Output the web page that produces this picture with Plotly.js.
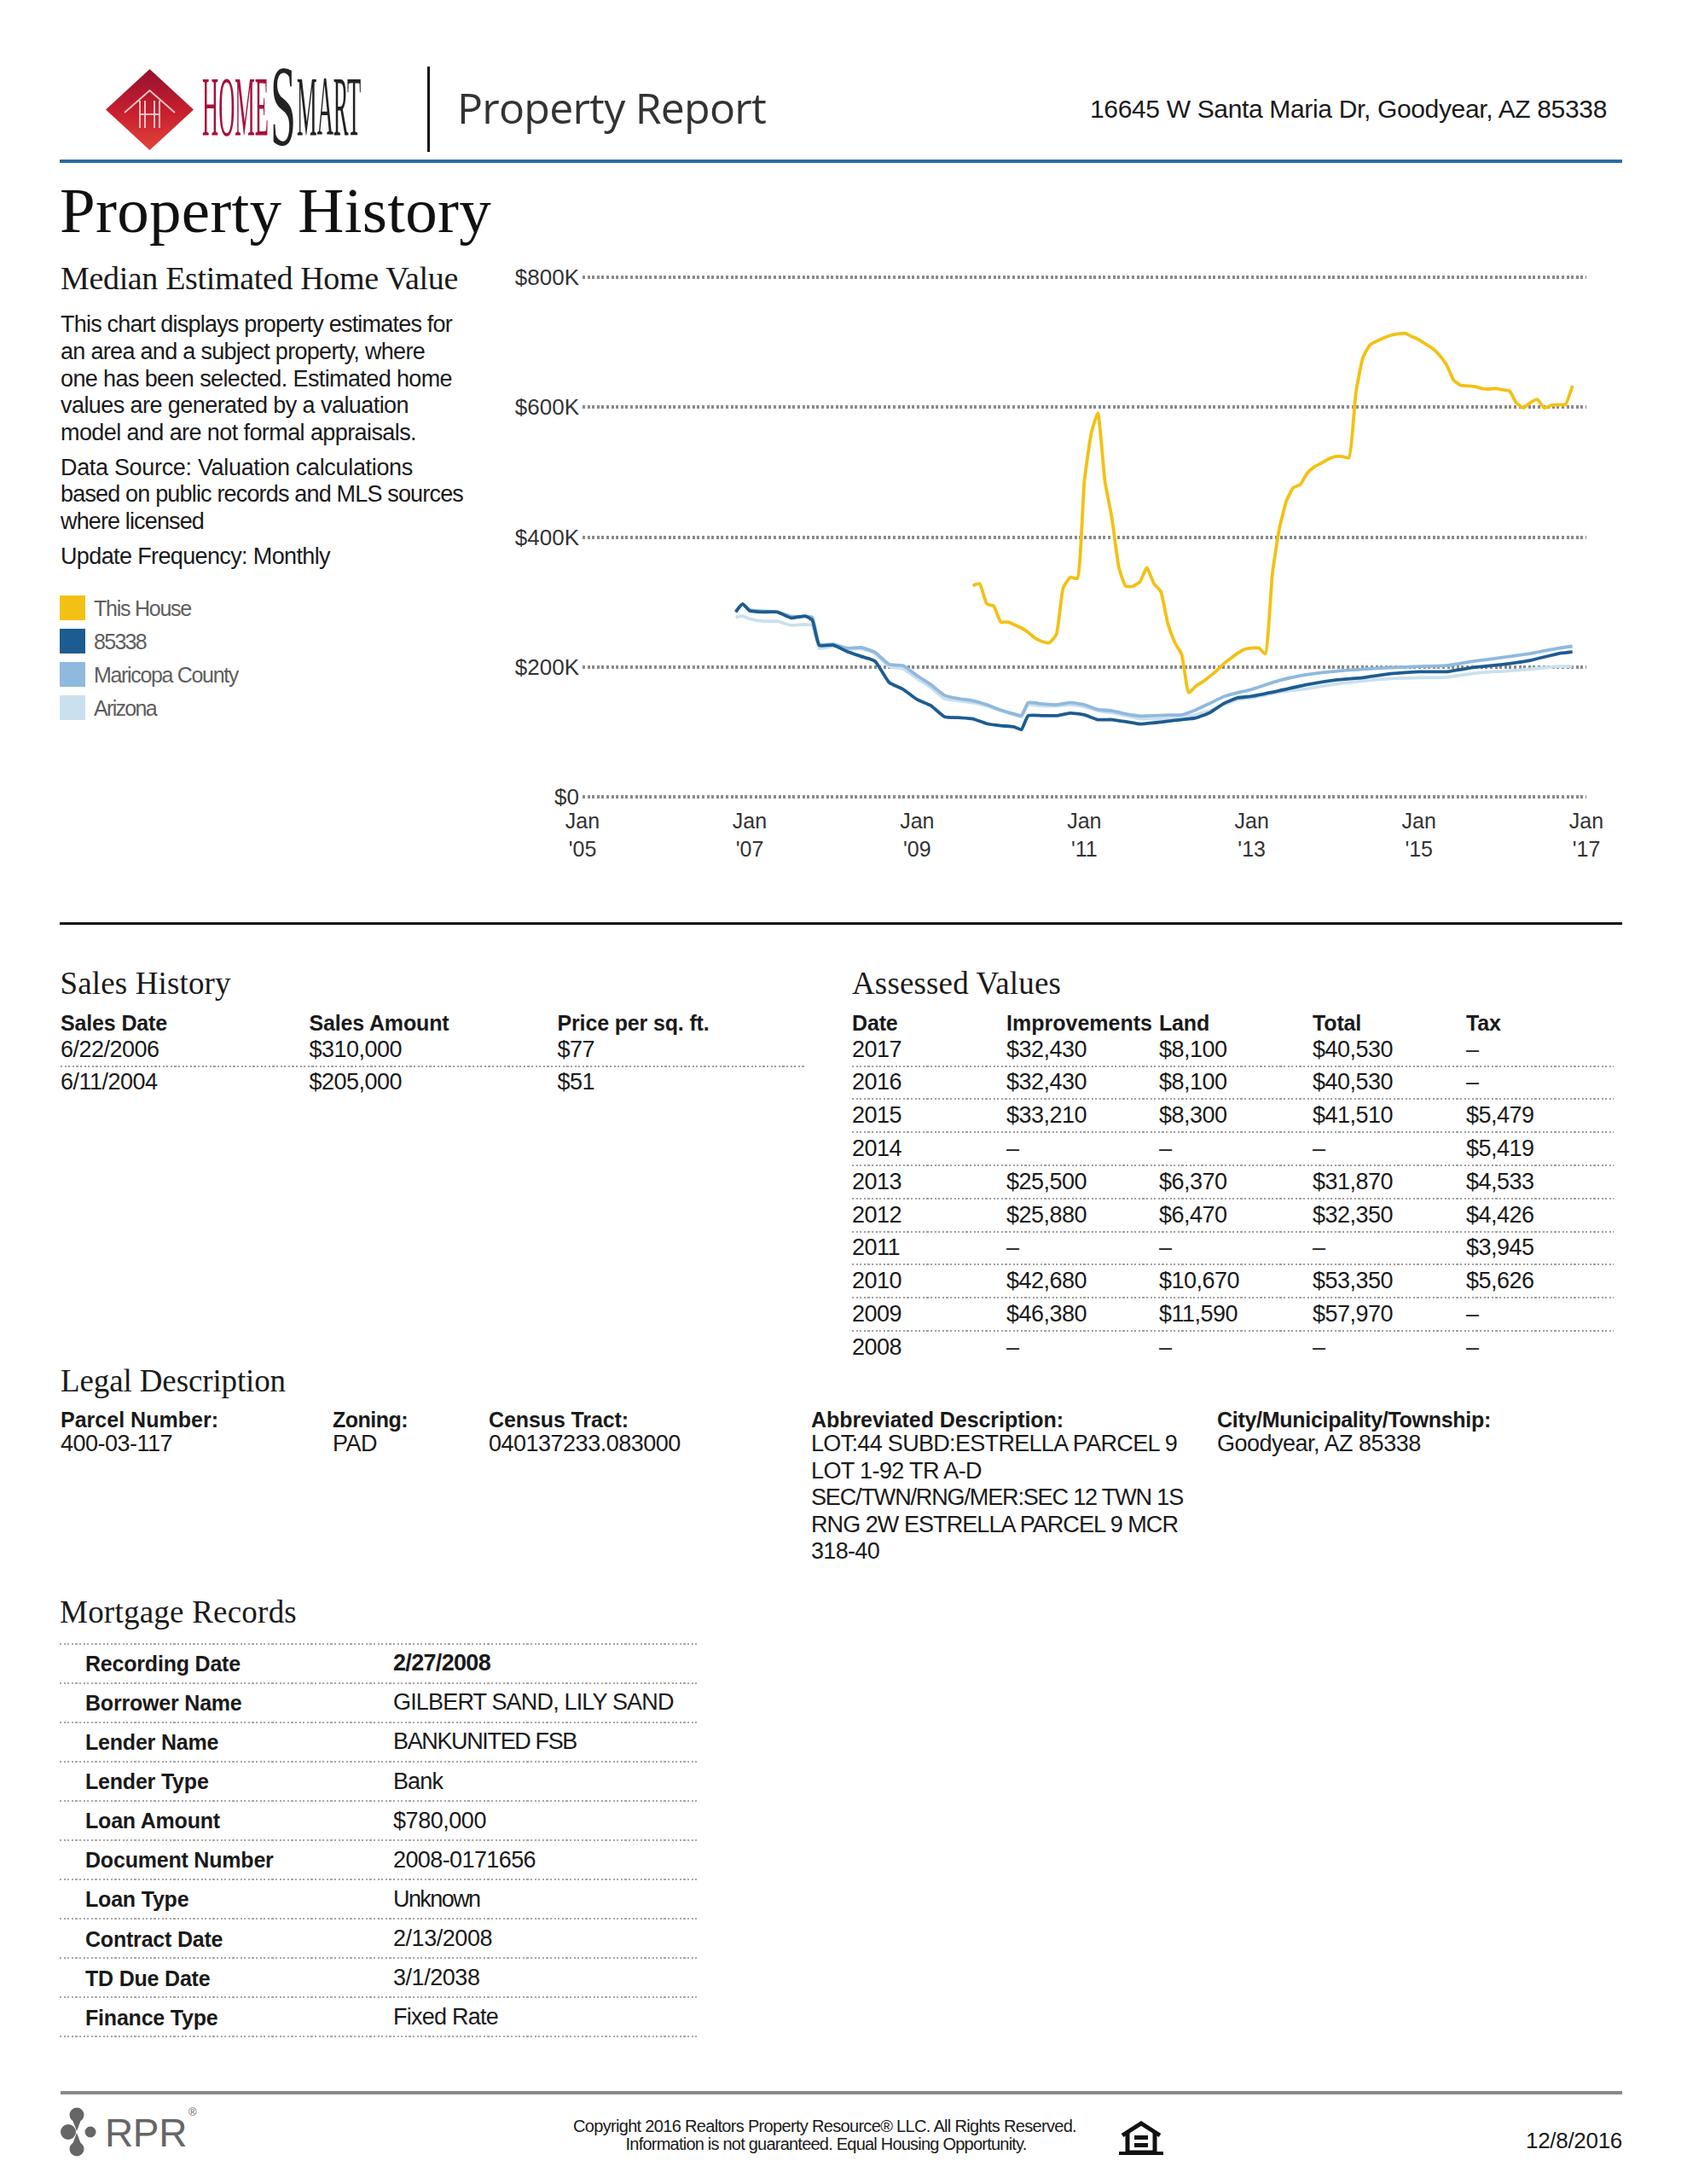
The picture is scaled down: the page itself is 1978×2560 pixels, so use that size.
<!DOCTYPE html>
<html>
<head>
<meta charset="utf-8">
<title>Property Report</title>
<script src="https://cdn.plot.ly/plotly-3.0.1.min.js"></script>
<style>
html,body{margin:0;padding:0;background:#fff;}
#page{position:relative;width:1978px;height:2560px;overflow:hidden;background:#fff;}
#chart{position:absolute;left:560px;top:290px;width:1400px;height:730px;}
.t{position:absolute;white-space:pre;line-height:1;}
.r{position:absolute;}
svg.a{position:absolute;left:0;top:0;}
</style>
</head>
<body>
<div id="page"><div id="chart"></div></div>
<script>
// ---------- chart data (values in $ thousands) ----------
const seriesNames = ["This House","85338","Maricopa County","Arizona"];
const seriesColors = ["#f3c114","#1d5c91","#8fb9dd","#cbe0ee"];
const houseDates = ["2009-09","2009-10","2009-11","2009-12",
"2010-01","2010-02","2010-03","2010-04","2010-05","2010-06","2010-07","2010-08","2010-09","2010-10","2010-11","2010-12",
"2011-01","2011-02","2011-03","2011-04","2011-05","2011-06","2011-07","2011-08","2011-09","2011-10","2011-11","2011-12",
"2012-01","2012-02","2012-03","2012-04","2012-05","2012-06","2012-07","2012-08","2012-09","2012-10","2012-11","2012-12",
"2013-01","2013-02","2013-03","2013-04","2013-05","2013-06","2013-07","2013-08","2013-09","2013-10","2013-11","2013-12",
"2014-01","2014-02","2014-03","2014-04","2014-05","2014-06","2014-07","2014-08","2014-09","2014-10","2014-11","2014-12",
"2015-01","2015-02","2015-03","2015-04","2015-05","2015-06","2015-07","2015-08","2015-09","2015-10","2015-11","2015-12",
"2016-01","2016-02","2016-03","2016-04","2016-05","2016-06","2016-07","2016-08","2016-09","2016-10","2016-11"];
const houseValues = [325,328,297,294,
269,269,265,260,253,244,239,237,250,322,338,336,
486,561,591,486,430,353,324,324,331,353,328,316,
266,237,219,160,170,177,185,194,205,213,221,227,
229,229,220,343,412,455,476,481,499,508,514,520,
524,524,522,623,676,696,702,707,711,713,714,709,
704,697,691,680,666,642,634,633,632,629,628,629,
627,625,607,599,607,612,599,603,604,604,633];
const areaDates = ["2006-11","2006-12","2007-01","2007-03","2007-05","2007-07","2007-09","2007-10","2007-11",
"2008-01","2008-03","2008-05","2008-07","2008-09","2008-11",
"2009-01","2009-03","2009-05","2009-07","2009-09","2009-11",
"2010-01","2010-03","2010-04","2010-05","2010-07","2010-09","2010-11",
"2011-01","2011-03","2011-05","2011-07","2011-09","2011-11",
"2012-01","2012-03","2012-05","2012-07","2012-09","2012-11",
"2013-01","2013-05","2013-09","2014-01","2014-05","2014-09",
"2015-01","2015-05","2015-09","2016-01","2016-05","2016-09","2016-11"];
const zipValues = [284.5,296.9,286.3,284.5,284.5,275.2,278.3,272,232.9,
233.5,223.6,216.1,208.7,175.8,165.2,
149.7,140.4,123,121.7,119.9,112.4,
109.3,107.4,103.1,124.8,124.8,124.8,128.6,
126.1,118.6,118.6,115.5,111.8,113.7,
116.1,118.6,121.1,129.2,143.5,152.2,
154.7,163.3,172.7,179.5,183.2,189.4,
192.5,192.5,199.4,203.7,209.9,220.5,223];
const countyValues = [285.7,296.3,287.6,285.7,284.5,277.6,277.6,276.4,234.8,
234.8,228.6,229.8,222.4,203.7,201.9,
186.3,172.7,155.9,150.9,147.8,141.6,
133.5,127.3,124.8,144.7,142.9,141.6,144.7,
141.6,134.2,132.3,127.3,124.2,124.8,
125.5,126.1,133.5,143.5,154,160.2,
165.2,178.9,188.2,193.2,196.3,198.8,
200.6,201.9,208.7,214.3,220.5,228.6,231.7];
const stateValues = [276.4,278.3,273.9,270.2,270.2,264,265.2,264,228.6,
231.7,227.3,228,220.5,200.6,196.9,
182,168.3,150.9,147.8,144.7,139.7,
132.3,126.1,123,141.6,139.7,139.7,141.6,
138.5,132.3,129.2,124.8,119.9,119.9,
119.9,121.1,126.1,132.3,141.6,149.7,
152.2,160.9,166.5,173.3,178.3,182,
183.2,183.8,190.1,193.2,196.3,200.6,200.6];
const yTickVals = [0,200,400,600,800];
const yTickText = ["$0","$200K","$400K","$600K","$800K"];
const xTickVals = ["2005-01-01","2007-01-01","2009-01-01","2011-01-01","2013-01-01","2015-01-01","2017-01-01"];
const xTickText = ["Jan<br>'05","Jan<br>'07","Jan<br>'09","Jan<br>'11","Jan<br>'13","Jan<br>'15","Jan<br>'17"];

// ---------- page text ----------
const addressText = "16645 W Santa Maria Dr, Goodyear, AZ 85338";
const introLines = ["This chart displays property estimates for","an area and a subject property, where","one has been selected. Estimated home","values are generated by a valuation","model and are not formal appraisals."];
const sourceLines = ["Data Source: Valuation calculations","based on public records and MLS sources","where licensed"];
const updateLine = "Update Frequency: Monthly";
const salesHeaders = ["Sales Date","Sales Amount","Price per sq. ft."];
const salesRows = [["6/22/2006","$310,000","$77"],["6/11/2004","$205,000","$51"]];
const assessedHeaders = ["Date","Improvements","Land","Total","Tax"];
const assessedRows = [
["2017","$32,430","$8,100","$40,530","–"],
["2016","$32,430","$8,100","$40,530","–"],
["2015","$33,210","$8,300","$41,510","$5,479"],
["2014","–","–","–","$5,419"],
["2013","$25,500","$6,370","$31,870","$4,533"],
["2012","$25,880","$6,470","$32,350","$4,426"],
["2011","–","–","–","$3,945"],
["2010","$42,680","$10,670","$53,350","$5,626"],
["2009","$46,380","$11,590","$57,970","–"],
["2008","–","–","–","–"]];
const legalHeaders = ["Parcel Number:","Zoning:","Census Tract:","Abbreviated Description:","City/Municipality/Township:"];
const legalValues = ["400-03-117","PAD","040137233.083000","","Goodyear, AZ 85338"];
const legalAbbrev = ["LOT:44 SUBD:ESTRELLA PARCEL 9","LOT 1-92 TR A-D","SEC/TWN/RNG/MER:SEC 12 TWN 1S","RNG 2W ESTRELLA PARCEL 9 MCR","318-40"];
const mortgageLabels = ["Recording Date","Borrower Name","Lender Name","Lender Type","Loan Amount","Document Number","Loan Type","Contract Date","TD Due Date","Finance Type"];
const mortgageValues = ["2/27/2008","GILBERT SAND, LILY SAND","BANKUNITED FSB","Bank","$780,000","2008-0171656","Unknown","2/13/2008","3/1/2038","Fixed Rate"];
const footerLines = ["Copyright 2016 Realtors Property Resource® LLC. All Rights Reserved.","Information is not guaranteed. Equal Housing Opportunity."];
const footerDate = "12/8/2016";

// ---------- page helpers ----------
const page = document.getElementById('page');
const SANS = '"Liberation Sans", Arial, sans-serif';
const SERIF = '"Liberation Serif", "Times New Roman", serif';
function T(x, base, str, o){
  o = o || {};
  const s = document.createElement('span');
  s.className = 't';
  s.textContent = str;
  const size = o.size || 27;
  const font = o.font || SANS;
  s.style.fontFamily = font;
  s.style.fontSize = size + 'px';
  s.style.fontWeight = o.bold ? '700' : '400';
  s.style.color = o.color || '#1a1a1a';
  s.style.top = (base - 0.84*size + (font === SANS ? 1 : 0)) + 'px';
  page.appendChild(s);
  if (o.ls !== undefined) s.style.letterSpacing = o.ls + 'px';
  if (o.width) {
    const w = s.getBoundingClientRect().width;
    s.style.letterSpacing = ((o.width - w) / str.length) + 'px';
  }
  const w2 = s.getBoundingClientRect().width;
  if (o.anchor === 'end') s.style.left = (x - w2) + 'px';
  else if (o.anchor === 'middle') s.style.left = (x - w2/2) + 'px';
  else s.style.left = x + 'px';
}
function R(x, y, w, h, color){
  const d = document.createElement('div');
  d.className = 'r';
  d.style.cssText += `left:${x}px;top:${y}px;width:${w}px;height:${h}px;background:${color};`;
  page.appendChild(d);
}
function D(x, y, w, color, h){
  const d = document.createElement('div');
  d.className = 'r';
  const hh = h || 2;
  d.style.cssText += `left:${x}px;top:${y}px;width:${w}px;height:${hh}px;background:repeating-linear-gradient(90deg,${color||'#a0a0a0'} 0 2.2px,transparent 2.2px 4.6px);`;
  page.appendChild(d);
}

// ---------- header ----------
page.insertAdjacentHTML('beforeend', `
<svg class="a" width="1978" height="200" viewBox="0 0 1978 200">
 <defs><linearGradient id="dg" x1="0" y1="0" x2="0" y2="1">
  <stop offset="0" stop-color="#96102f"/><stop offset="0.55" stop-color="#c8202e"/><stop offset="1" stop-color="#e2433a"/></linearGradient></defs>
 <polygon points="175.5,81 227,128.5 175.5,176 124,128.5" fill="url(#dg)"/>
 <path d="M146 132 L175.5 106 L205 132" fill="none" stroke="#eec2c2" stroke-width="2"/>
 <path d="M164 118 V150 M170 118 V150 M181 118 V150 M187 118 V150 M164 134 H187" fill="none" stroke="#eec2c2" stroke-width="2"/>
 <text transform="translate(237,158) scale(0.265,1)" font-family="Liberation Serif" font-size="100" fill="#a5123c">HOME</text>
 <text transform="translate(317,170) scale(0.4,1)" font-family="Liberation Serif" font-size="135" fill="#222">S</text>
 <text transform="translate(348,158) scale(0.266,1)" font-family="Liberation Serif" font-size="100" fill="#222">MART</text>
</svg>`);
R(501, 78, 2.5, 100, '#111');
T(536, 143, "Property Report", {font:'"Open Sans", sans-serif', size:50, color:'#333', width:362});
T(1884, 137, addressText, {size:30, width:606, anchor:'end'});
R(70, 187, 1832, 4, '#2b6c9e');
T(70, 272, "Property History", {font:SERIF, size:75, color:'#111', width:506});

// ---------- left column ----------
T(71, 339, "Median Estimated Home Value", {font:SERIF, size:38, width:466});
const introBases = [389,421,453,484,516];
const introWidths = [459,427,459,408,417];
introLines.forEach((l,i)=>T(71, introBases[i], l, {size:27, width:introWidths[i]}));
const sourceBases = [557,588,620];
const sourceWidths = [413,472,168];
sourceLines.forEach((l,i)=>T(71, sourceBases[i], l, {size:27, width:sourceWidths[i]}));
T(71, 661, updateLine, {size:27, width:316});
const swatchTops = [698,737,776,815];
const labelBases = [721,760,799,837.5];
const labelWidths = [114,61,169,73];
seriesNames.forEach((n,i)=>{
  R(70, swatchTops[i], 30, 29, seriesColors[i]);
  T(110, labelBases[i], n, {size:25, color:'#5e5e5e', width:labelWidths[i]});
});

// ---------- chart ----------
const traces = [
 {x:areaDates, y:stateValues, name:seriesNames[3], color:seriesColors[3]},
 {x:areaDates, y:countyValues, name:seriesNames[2], color:seriesColors[2]},
 {x:areaDates, y:zipValues, name:seriesNames[1], color:seriesColors[1]},
 {x:houseDates, y:houseValues, name:seriesNames[0], color:seriesColors[0]}
].map(t=>({x:t.x,y:t.y,name:t.name,type:'scatter',mode:'lines',line:{color:t.color,width:3.8,shape:'spline',smoothing:0.45},hoverinfo:'x+y'}));
Plotly.newPlot('chart', traces, {
  width:1400, height:730, showlegend:false,
  paper_bgcolor:'rgba(0,0,0,0)', plot_bgcolor:'rgba(0,0,0,0)',
  margin:{l:123,r:100,t:33.12,b:84.32,pad:0},
  xaxis:{type:'date',range:['2005-01-01','2017-01-01'],tickmode:'array',tickvals:xTickVals,ticktext:xTickText,
    showgrid:false,zeroline:false,showline:false,ticks:'',ticklabelstandoff:9,tickfont:{family:SANS,size:25,color:'#333'},tickangle:0,automargin:false},
  yaxis:{range:[-3,803],tickmode:'array',tickvals:yTickVals,ticktext:yTickText,
    showgrid:true,gridcolor:'#8a8a8a',gridwidth:4,griddash:'3px,2.6px',zeroline:false,showline:false,ticks:'',ticklabelstandoff:3,tickfont:{family:SANS,size:26,color:'#333'},automargin:false}
},{displayModeBar:false,staticPlot:true});

// ---------- section rule ----------
R(70, 1080.5, 1832, 3, '#111');

// ---------- sales history ----------
T(70.6, 1165, "Sales History", {font:SERIF, size:37, width:200});
const salesCols = [71,362.5,653.5];
salesHeaders.forEach((h,i)=>T(salesCols[i], 1207, h, {size:25, bold:true, ls:-0.15}));
salesRows.forEach((r,j)=>r.forEach((c,i)=>T(salesCols[i], 1238.3+38.8*j, c, {size:27, ls:-0.5})));
D(71, 1248.5, 873);

// ---------- assessed values ----------
T(999, 1165, "Assessed Values", {font:SERIF, size:37, width:245});
const assessedCols = [999,1180,1359,1539,1719];
assessedHeaders.forEach((h,i)=>T(assessedCols[i], 1207, h, i===1 ? {size:25, bold:true, width:171} : {size:25, bold:true, ls:-0.15}));
assessedRows.forEach((r,j)=>{
  r.forEach((c,i)=>T(assessedCols[i], 1238.3+38.8*j, c, {size:27, ls:-0.5}));
  if (j < assessedRows.length-1) D(999, 1248.5+38.8*j, 893);
});

// ---------- legal description ----------
T(71, 1631, "Legal Description", {font:SERIF, size:37, width:264});
const legalCols = [71,390,573,951,1427];
const legalHeaderWidths = [185,88,164,296,321];
legalHeaders.forEach((h,i)=>T(legalCols[i], 1672, h, {size:25, bold:true, width:legalHeaderWidths[i]}));
legalValues.forEach((v,i)=>{ if(v) T(legalCols[i], 1701, v, {size:27, ls:-0.5}); });
const abbrevWidths = [429,200,436,430,80];
legalAbbrev.forEach((l,i)=>T(951, 1701+31.4*i, l, {size:27, width:abbrevWidths[i]}));

// ---------- mortgage records ----------
T(70, 1902, "Mortgage Records", {font:SERIF, size:37, width:278});
D(70, 1925.5, 750, '#a8a8a8');
const mortgageWidths = [114,328.6,215,58,109,167,101.5,116,101.5,123];
mortgageLabels.forEach((l,i)=>{
  T(100, 1958+46.08*i, l, {size:25, bold:true, ls:-0.2});
  T(461, 1958+46.08*i, mortgageValues[i], {size:27, bold:i===0, width:mortgageWidths[i]});
  D(70, 1971.5+46.08*i, 750, '#a8a8a8');
});

// ---------- footer ----------
R(70.6, 2451, 1831.4, 3.5, '#888');
page.insertAdjacentHTML('beforeend', `
<svg class="a" width="1978" height="2560" viewBox="0 0 1978 2560" style="pointer-events:none">
 <g fill="#666">
  <circle cx="90" cy="2479" r="8.5"/><circle cx="80" cy="2499" r="9"/><circle cx="106" cy="2499" r="6.5"/><circle cx="90" cy="2519" r="8.5"/>
  <path d="M84 2482 L96 2482 L90 2498 Z"/><path d="M84 2516 L96 2516 L90 2500 Z"/>
 </g>
 <g fill="none" stroke="#111" stroke-width="5">
  <path d="M1316 2503 L1338 2489 L1360 2503"/>
  <path d="M1322 2500 V2523 H1354 V2500"/>
 </g>
 <rect x="1312" y="2522" width="52" height="4" fill="#111"/>
 <rect x="1330" y="2503" width="16" height="5" fill="#111"/>
 <rect x="1330" y="2512" width="16" height="5" fill="#111"/>
</svg>`);
T(123, 2515, "RPR", {size:46, color:'#666', width:96});
T(221, 2479, "®", {size:13, color:'#666'});
T(967, 2498, footerLines[0], {size:20, width:590, anchor:'middle'});
T(968.6, 2519, footerLines[1], {size:20, width:470, anchor:'middle'});
T(1902, 2517, footerDate, {size:26, anchor:'end', ls:-0.3});
</script>
</body>
</html>
